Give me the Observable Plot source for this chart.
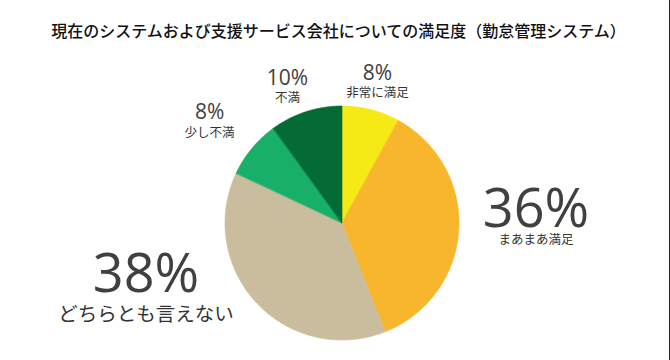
<!DOCTYPE html>
<html><head><meta charset="utf-8">
<script src="https://cdn.jsdelivr.net/npm/d3@7"></script>
<script src="https://cdn.jsdelivr.net/npm/@observablehq/plot@0.6"></script>
<style>
html,body{margin:0;padding:0;background:#fff;}
#wrap{width:669px;height:360px;border-right:1px solid #222;position:relative;overflow:hidden;}
#title{height:50px;box-sizing:border-box;padding-top:20px;padding-left:8px;line-height:20px;text-align:center;font-family:"Noto Sans CJK JP",sans-serif;font-size:16px;font-weight:500;color:#111;white-space:nowrap;}
svg{display:block;}
</style></head>
<body><div id="wrap"><div id="title">現在のシステムおよび支援サービス会社についての満足度（勤怠管理システム）</div><div id="chart"></div></div>
<script>
// data
const categories = ["非常に満足","まあまあ満足","どちらとも言えない","少し不満","不満"];
const values = [8, 36, 38, 8, 10];
const pctLabels = ["8%","36%","38%","8%","10%"];
const colors = ["#F5E916","#F7B62C","#C9BD9D","#18AF68","#046B36"];

// layout (label placement relative to each slice)
const labelAngleOffset = [-1.3, -7.6, 28.6, 0.2, -2.8];
const labelDist = [154, 194, 203, 173, 155];
const pctSize = [21, 54, 54, 21, 21];
const nameSize = [12.5, 12.5, 19.5, 12.5, 12.5];
const nameDy = [19, 30.5, 40, 20, 19];

const W = 669, H = 310, cx = 342, cy = 173, R = 117;
const total = d3.sum(values);
let acc = 0;
const wedges = [];
const labels = [];
categories.forEach((c, i) => {
  const a0 = acc / total * 360, a1 = (acc + values[i]) / total * 360;
  acc += values[i];
  const n = Math.max(2, Math.ceil((a1 - a0) / 0.5));
  for (let k = 0; k <= n; k++) {
    const a = (a0 + (a1 - a0) * k / n) * Math.PI / 180;
    wedges.push({cat: c, x: cx + R * Math.sin(a), y: cy - R * Math.cos(a)});
  }
  const m = ((a0 + a1) / 2 + labelAngleOffset[i]) * Math.PI / 180;
  const lx = cx + labelDist[i] * Math.sin(m), ly = cy - labelDist[i] * Math.cos(m);
  labels.push({cat: c, pct: pctLabels[i], x: lx, y: ly, ny: ly + nameDy[i], ps: pctSize[i], ns: nameSize[i]});
});

const chart = Plot.plot({
  width: W, height: H,
  margin: 0,
  x: {type: "linear", domain: [0, W], range: [0, W], axis: null},
  y: {type: "linear", domain: [0, H], range: [0, H], axis: null},
  color: {domain: categories, range: colors},
  style: {fontFamily: "'Noto Sans CJK JP', sans-serif", background: "transparent"},
  marks: [
    Plot.area(wedges, {x1: cx, y1: cy, x2: "x", y2: "y", z: "cat", fill: "cat", stroke: "cat", strokeWidth: 0.6, curve: "linear"}),
    Plot.text(labels, {x: "x", y: "y", text: "pct", fontSize: "ps", fill: "#404040", fontFamily: "'Open Sans', sans-serif", lineAnchor: "middle"}),
    Plot.text(labels, {x: "x", y: "ny", text: "cat", fontSize: "ns", fill: "#333", lineAnchor: "middle"})
  ]
});
document.getElementById("chart").appendChild(chart);
</script></body></html>
